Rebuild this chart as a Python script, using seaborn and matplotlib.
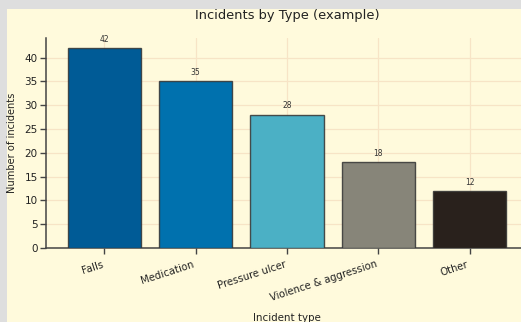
import matplotlib
matplotlib.use("Agg")
import matplotlib.pyplot as plt
from matplotlib.patches import Rectangle
import seaborn as sns
import pandas as pd

categories = ["Falls", "Medication", "Pressure ulcer", "Violence & aggression", "Other"]
counts = [42, 35, 28, 18, 12]
bar_colors = ["#005b96", "#0071ae", "#4bb0c5", "#878579", "#29211c"]

paper = "#fffadc"
grid_col = "#f7e4c6"

sns.set_theme(style="whitegrid")
plt.rcParams["font.family"] = ["DejaVu Sans"]

df = pd.DataFrame({"type": categories, "count": counts})

fig = plt.figure(figsize=(5.21, 3.22), dpi=100, facecolor="#dedede")
fig.patches.append(Rectangle((7 / 521, 0), 1, (322 - 9) / 322, transform=fig.transFigure,
                             facecolor=paper, edgecolor="none", zorder=-10))

ax = fig.add_axes([46 / 521, (322 - 248) / 322, (528 - 46) / 521, (248 - 38) / 322])
ax.set_facecolor(paper)

sns.barplot(data=df, x="type", y="count", hue="type", palette=bar_colors, legend=False,
            saturation=1, width=0.8, edgecolor="#333333", linewidth=1.0, ax=ax, zorder=3)
for p in ax.patches:
    p.set_edgecolor((0.2, 0.2, 0.2, 0.85))

ax.set_xlim(-0.64, 4.64)
ax.set_ylim(0, 44.1)
ax.set_yticks(range(0, 45, 5))

for i, v in enumerate(counts):
    ax.annotate(str(v), (i, v), xytext=(0, 3), textcoords="offset points",
                ha="center", va="bottom", fontsize=5.5, color="#333333")

ax.grid(True, color=grid_col, linewidth=0.9, zorder=0)
ax.set_axisbelow(True)
sns.despine(ax=ax)
for s in ["left", "bottom"]:
    ax.spines[s].set_color("#444444")
    ax.spines[s].set_linewidth(1.1)

ax.tick_params(axis="both", which="both", length=4, width=1, color="#444444",
               labelsize=7.5, labelcolor="#222222", left=True, bottom=True, pad=2)
ax.tick_params(axis="x", pad=4)
plt.setp(ax.get_xticklabels(), rotation=18, ha="right", fontsize=7.3)

ax.set_title("Incidents by Type (example)", fontsize=9.4, color="#222222", pad=14)
ax.set_xlabel("Incident type", fontsize=7.4, color="#222222", labelpad=7)
ax.set_ylabel("Number of incidents", fontsize=7.1, color="#222222", labelpad=5)

fig.savefig("out.png", dpi=100, facecolor=fig.get_facecolor())
